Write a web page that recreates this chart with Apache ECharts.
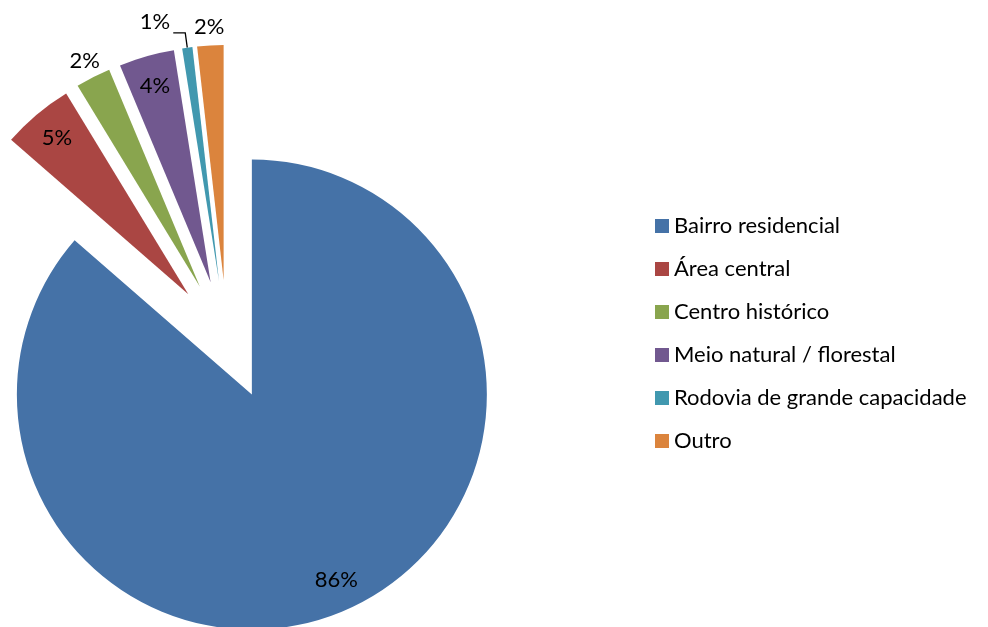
<!DOCTYPE html>
<html>
<head>
<meta charset="utf-8">
<script src="https://cdn.jsdelivr.net/npm/echarts@6/dist/echarts.min.js"></script>
<style>
  html, body { margin: 0; padding: 0; background: #fff; }
  #chart { width: 988px; height: 627px; }
</style>
</head>
<body>
<div id="chart"></div>
<script>
const categories = [
  'Bairro residencial',
  'Área central',
  'Centro histórico',
  'Meio natural / florestal',
  'Rodovia de grande capacidade',
  'Outro'
];
const values = [86.4, 4.9, 2.4, 3.8, 0.7, 1.8];
const colors = ['#4572A7', '#AA4643', '#89A54E', '#71588F', '#4198AF', '#DB843D'];

const fontFamily = 'Lato, "Open Sans", sans-serif';
const center = [227, 340];
const R = 235;
// which slices carry their label inside, outside, or with a leader line
const insideIdx = [0, 1, 3];
const outsideIdx = [2, 5];
const leaderIdx = [4];

const pct = p => Math.round(p.percent) + '%';

function buildData(showIdx, extra) {
  return categories.map((name, i) => {
    const item = { name: name, value: values[i], selected: true };
    if (showIdx.indexOf(i) >= 0) {
      item.label = Object.assign({ show: true }, extra && extra.label);
      if (extra && extra.labelLine) item.labelLine = extra.labelLine;
    }
    return item;
  });
}

const common = {
  type: 'pie',
  center: center,
  startAngle: 90,
  clockwise: true,
  selectedMode: 'multiple',
  selectedOffset: 60,
  avoidLabelOverlap: false,
  animation: false,
  emphasis: { disabled: true },
  select: { itemStyle: { borderWidth: 0 } }
};

const labelText = { color: '#000', fontSize: 22, fontFamily: fontFamily };

const myChart = echarts.init(document.getElementById('chart'));
const option = {
  color: colors,
  animation: false,
  legend: {
    orient: 'vertical',
    left: 650,
    top: 210,
    data: categories,
    icon: 'rect',
    itemWidth: 14,
    itemHeight: 14,
    itemGap: 21,
    selectedMode: false,
    textStyle: { color: '#000', fontSize: 22, fontFamily: fontFamily, lineHeight: 22 }
  },
  series: [
    Object.assign({}, common, {
      name: 'fatias',
      radius: R,
      itemStyle: { borderWidth: 0 },
      label: Object.assign({ show: false, position: 'outside',
        formatter: p => pct(p) + '\n ', lineHeight: 22, distanceToLabelLine: 3 }, labelText),
      labelLine: { show: false, length: 15, length2: 12, lineStyle: { color: '#000', width: 1.3 } },
      data: buildData(leaderIdx, { labelLine: { show: true } })
    }),
    Object.assign({}, common, {
      name: 'rotulosInternos',
      radius: [R * 0.71, R],
      silent: true,
      itemStyle: { color: 'rgba(0,0,0,0)', borderWidth: 0 },
      label: Object.assign({ show: false, position: 'inside', formatter: pct }, labelText),
      labelLine: { show: false },
      data: buildData(insideIdx)
    }),
    Object.assign({}, common, {
      name: 'rotulosExternos',
      radius: [R * 1.02, R * 1.11],
      silent: true,
      itemStyle: { color: 'rgba(0,0,0,0)', borderWidth: 0 },
      label: Object.assign({ show: false, position: 'inside', formatter: pct }, labelText),
      labelLine: { show: false },
      data: buildData(outsideIdx)
    })
  ]
};
myChart.setOption(option);
</script>
</body>
</html>
